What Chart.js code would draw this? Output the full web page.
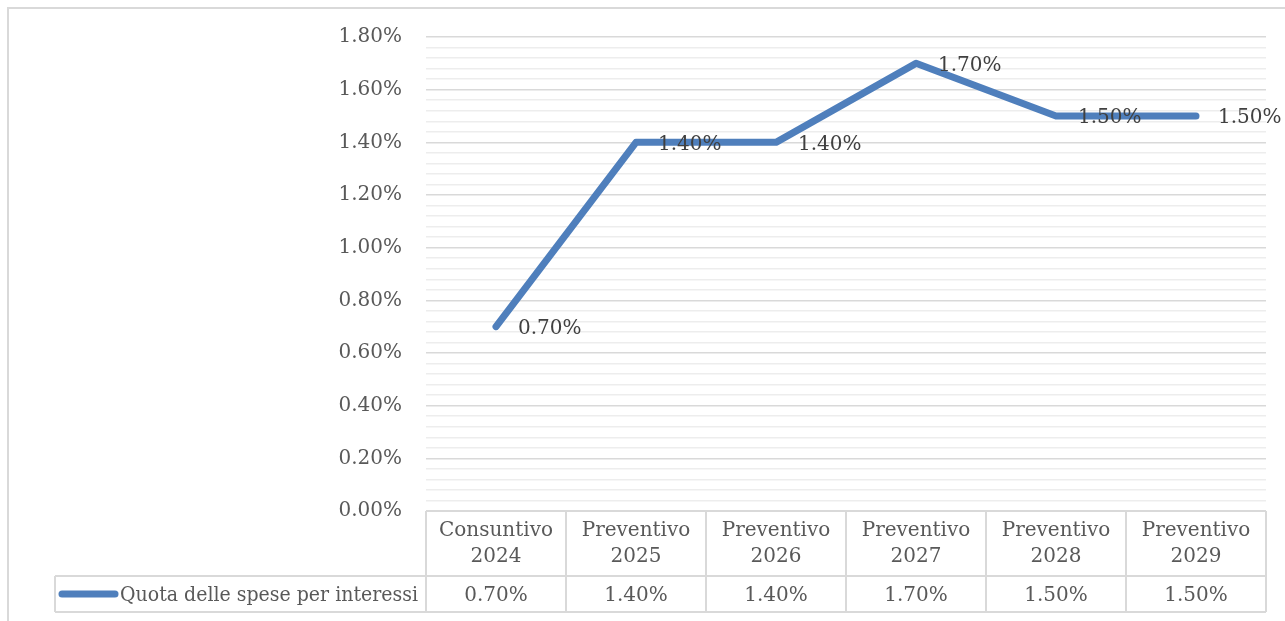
<!DOCTYPE html>
<html><head><meta charset="utf-8">
<script src="https://cdn.jsdelivr.net/npm/chart.js@4.4.1/dist/chart.umd.min.js"></script>
<style>html,body{margin:0;padding:0;background:#fff;overflow:hidden}</style>
</head><body>
<canvas id="c" width="1285" height="621"></canvas>
<script>
const categories = ['Consuntivo 2024','Preventivo 2025','Preventivo 2026','Preventivo 2027','Preventivo 2028','Preventivo 2029'];
const seriesName = 'Quota delle spese per interessi';
const values = [0.70, 1.40, 1.40, 1.70, 1.50, 1.50];
const yTickValues = [0, 0.2, 0.4, 0.6, 0.8, 1.0, 1.2, 1.4, 1.6, 1.8];
const yTickLabels = ['0.00%','0.20%','0.40%','0.60%','0.80%','1.00%','1.20%','1.40%','1.60%','1.80%'];
const yMinorStep = 0.04;

const FONT = '"DejaVu Serif", serif';
const FSIZE = 20;
const LINE_COLOR = '#4f7fbc';
const GRID_MAJOR = '#d9d9d9';
const GRID_MINOR = '#ededed';
const TEXT = '#595959';
const fmt = v => v.toFixed(2) + '%';

function majorIndex(v){
  for (let i = 0; i < yTickValues.length; i++) if (Math.abs(v - yTickValues[i]) < 1e-6) return i;
  return -1;
}

const extras = {
  id: 'extras',
  beforeDraw(chart){
    const ctx = chart.ctx;
    ctx.save();
    ctx.fillStyle = '#fff';
    ctx.fillRect(0,0,chart.width,chart.height);
    ctx.strokeStyle = GRID_MAJOR;
    ctx.lineWidth = 2;
    ctx.beginPath();
    ctx.moveTo(8, chart.height + 5); ctx.lineTo(8, 8); ctx.lineTo(chart.width + 5, 8);
    ctx.stroke();
    ctx.restore();
  },
  afterDatasetsDraw(chart){
    const ctx = chart.ctx;
    const meta = chart.getDatasetMeta(0);
    ctx.save();
    ctx.font = FSIZE + 'px ' + FONT;
    ctx.fillStyle = '#404040';
    ctx.textAlign = 'left';
    ctx.textBaseline = 'middle';
    meta.data.forEach((pt, i) => {
      ctx.fillText(fmt(values[i]), pt.x + 22, pt.y + 2);
    });
    ctx.restore();
  },
  afterDraw(chart){
    const ctx = chart.ctx;
    const area = chart.chartArea;
    const xs = chart.scales.x;
    const n = categories.length;
    const colW = (area.right - area.left) / n;
    const top = area.bottom;
    const mid = top + 65;
    const bot = mid + 36;
    const legLeft = 55;
    ctx.save();
    ctx.strokeStyle = GRID_MAJOR;
    ctx.lineWidth = 2;
    ctx.beginPath();
    ctx.moveTo(area.left, top); ctx.lineTo(area.right, top);
    ctx.moveTo(legLeft, mid); ctx.lineTo(area.right, mid);
    ctx.moveTo(legLeft, bot); ctx.lineTo(area.right, bot);
    ctx.moveTo(legLeft, mid); ctx.lineTo(legLeft, bot);
    for (let i = 0; i <= n; i++) {
      const x = i < n ? xs.getPixelForValue(i) - colW/2 : xs.getPixelForValue(n-1) + colW/2;
      ctx.moveTo(x, top); ctx.lineTo(x, bot);
    }
    ctx.stroke();

    ctx.font = FSIZE + 'px ' + FONT;
    ctx.fillStyle = TEXT;
    ctx.textAlign = 'center';
    ctx.textBaseline = 'middle';
    categories.forEach((c, i) => {
      const x = xs.getPixelForValue(i);
      const parts = c.split(' ');
      ctx.fillText(parts[0], x, top + 20);
      ctx.fillText(parts[1], x, top + 46);
      ctx.fillText(fmt(values[i]), x, mid + 20);
    });

    // legend key
    ctx.strokeStyle = LINE_COLOR;
    ctx.lineWidth = 7;
    ctx.lineCap = 'round';
    ctx.beginPath();
    ctx.moveTo(62, mid + 18); ctx.lineTo(115, mid + 18);
    ctx.stroke();
    ctx.textAlign = 'left';
    ctx.fillText(seriesName, 120, mid + 20, area.left - 120 - 8);
    ctx.restore();
  }
};

new Chart(document.getElementById('c'), {
  type: 'line',
  data: {
    labels: categories,
    datasets: [{
      label: seriesName,
      data: values,
      borderColor: LINE_COLOR,
      backgroundColor: LINE_COLOR,
      borderWidth: 7,
      borderCapStyle: 'round',
      borderJoinStyle: 'round',
      pointRadius: 0,
      pointHoverRadius: 0,
      tension: 0,
      fill: false
    }]
  },
  options: {
    responsive: false,
    animation: false,
    events: [],
    layout: { padding: { left: 0, right: 19, top: 37, bottom: 110 } },
    plugins: { legend: { display: false }, tooltip: { enabled: false }, title: { display: false } },
    scales: {
      x: { type: 'category', display: false, offset: true },
      y: {
        min: 0, max: 1.8,
        border: { display: false },
        grid: {
          drawTicks: false,
          color: c => majorIndex(c.tick.value) >= 0 ? GRID_MAJOR : GRID_MINOR,
          lineWidth: c => 1.5
        },
        ticks: {
          stepSize: yMinorStep,
          autoSkip: false,
          padding: 24,
          color: TEXT,
          font: { family: FONT, size: FSIZE },
          callback: v => { const k = majorIndex(v); return k >= 0 ? yTickLabels[k] : ''; }
        },
        afterFit: s => { s.width = 426; s.paddingTop = 0; s.paddingBottom = 0; }
      }
    }
  },
  plugins: [extras]
});
</script>
</body></html>
